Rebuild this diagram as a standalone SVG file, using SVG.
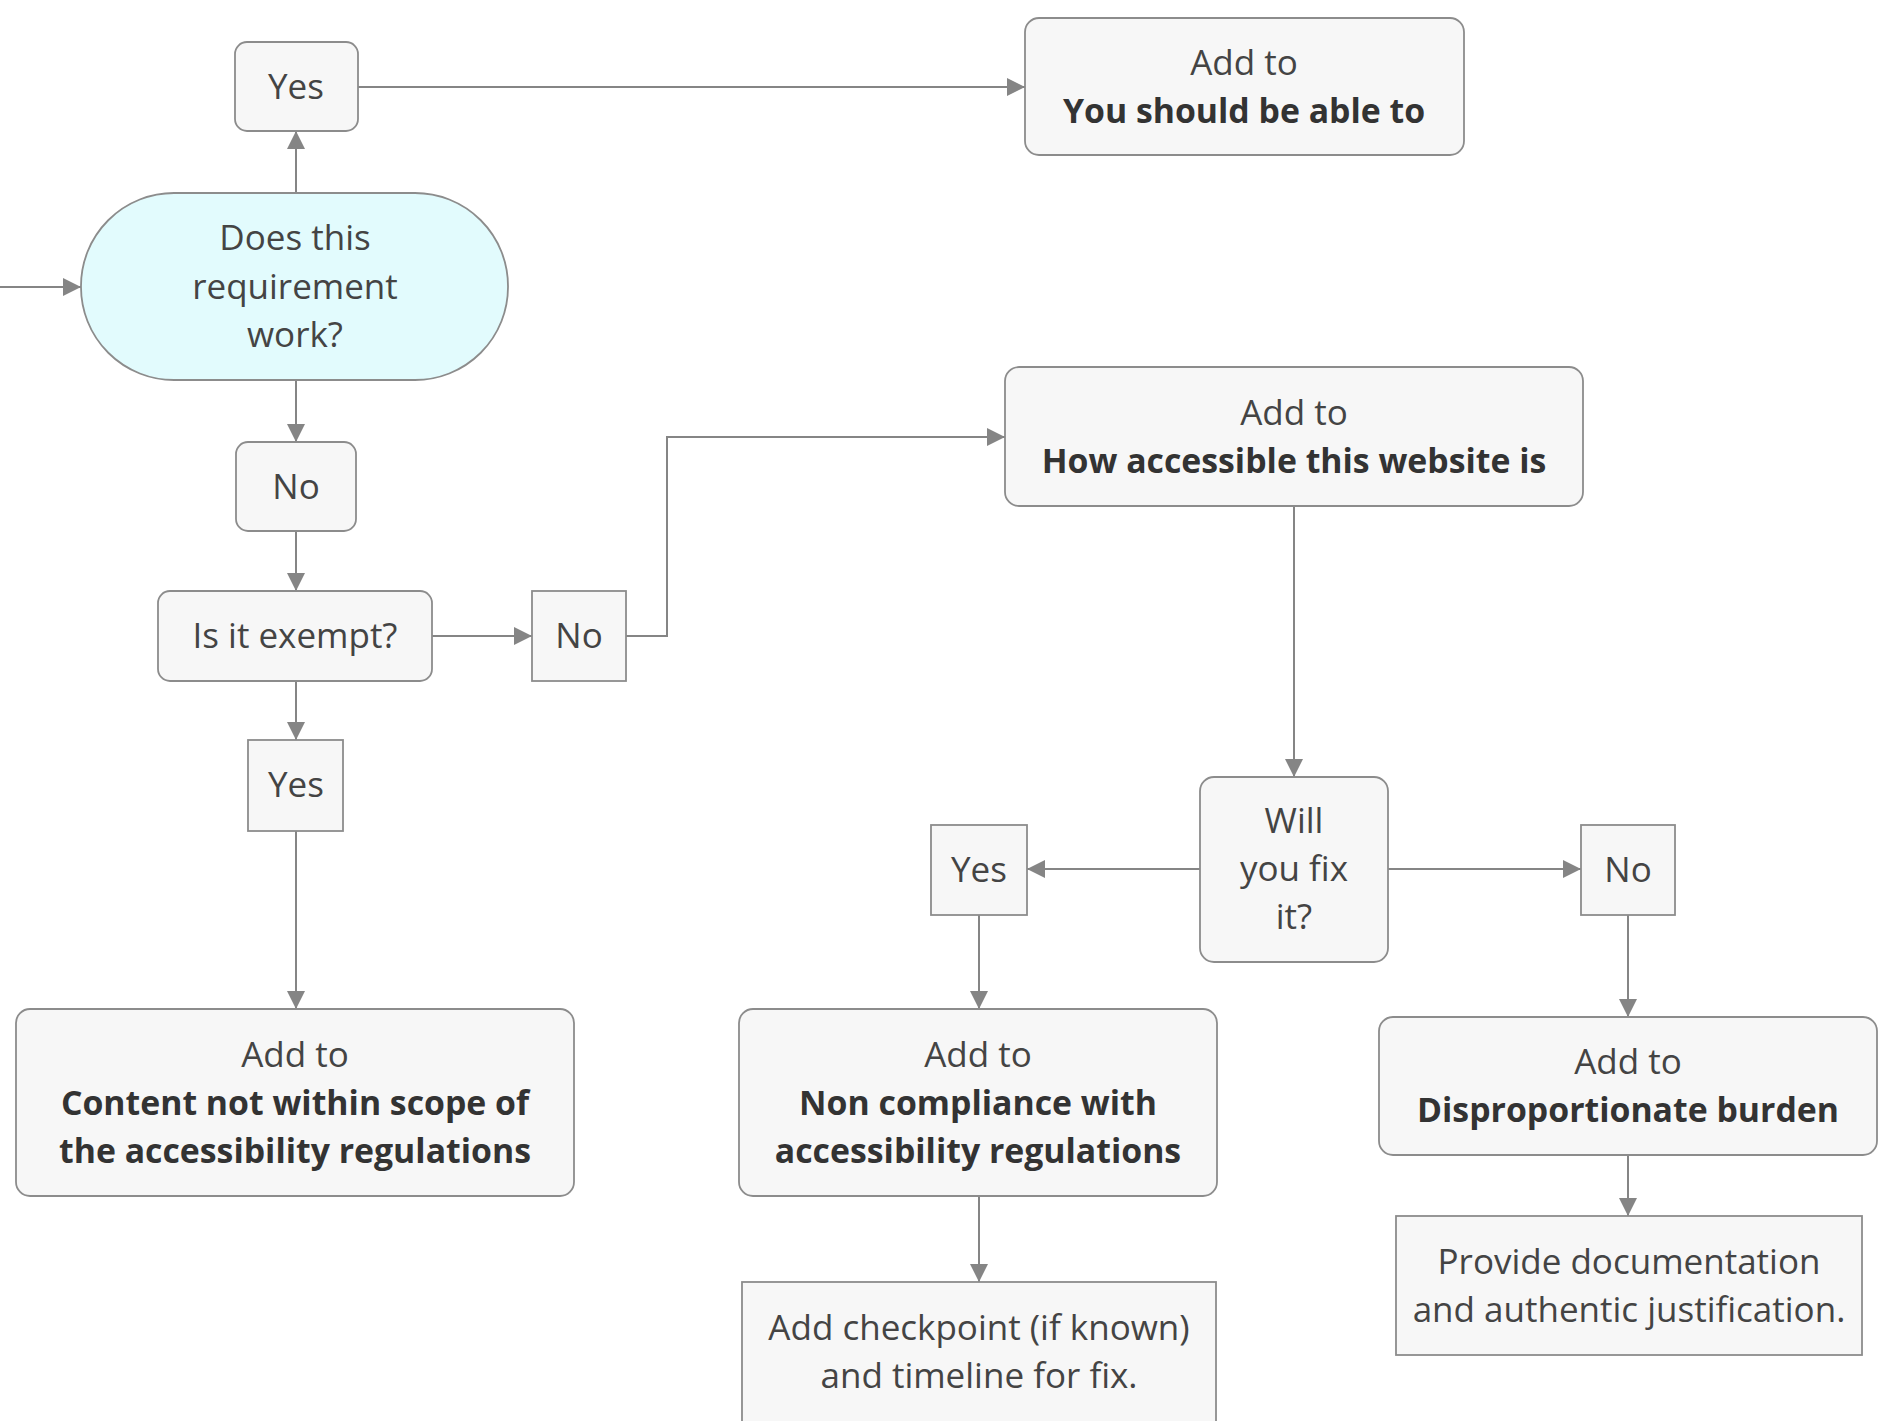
<svg xmlns="http://www.w3.org/2000/svg" width="1888" height="1421" viewBox="0 0 1888 1421">
<style>
.box{fill:#f7f7f7;stroke:#8c8c8c;stroke-width:1.8}
.pill{fill:#e2fbfd;stroke:#8c8c8c;stroke-width:1.8}
.t{font-family:"Open Sans","Noto Sans",sans-serif;font-size:35px;fill:#444;text-anchor:middle}
.b{font-weight:bold;font-size:33.8px;fill:#333}
.c{fill:none;stroke:#858585;stroke-width:2}
</style>
<defs>
<marker id="arr" viewBox="0 0 10 10" refX="10" refY="5" markerWidth="18" markerHeight="18" markerUnits="userSpaceOnUse" orient="auto">
<path d="M0,0 L10,5 L0,10 z" fill="#858585"/>
</marker>
</defs>
<rect width="1888" height="1421" fill="#ffffff"/>
<g id="connectors">
<path class="c" d="M0,287 H81" marker-end="url(#arr)"/>
<path class="c" d="M296,193 V131" marker-end="url(#arr)"/>
<path class="c" d="M358,87 H1025" marker-end="url(#arr)"/>
<path class="c" d="M296,380 V442" marker-end="url(#arr)"/>
<path class="c" d="M296,531 V591" marker-end="url(#arr)"/>
<path class="c" d="M432,636 H532" marker-end="url(#arr)"/>
<path class="c" d="M626,636 H667 V437 H1005" marker-end="url(#arr)"/>
<path class="c" d="M296,681 V740" marker-end="url(#arr)"/>
<path class="c" d="M296,831 V1009" marker-end="url(#arr)"/>
<path class="c" d="M1294,506 V777" marker-end="url(#arr)"/>
<path class="c" d="M1200,869 H1027" marker-end="url(#arr)"/>
<path class="c" d="M1388,869 H1581" marker-end="url(#arr)"/>
<path class="c" d="M979,915 V1009" marker-end="url(#arr)"/>
<path class="c" d="M1628,915 V1017" marker-end="url(#arr)"/>
<path class="c" d="M979,1196 V1282" marker-end="url(#arr)"/>
<path class="c" d="M1628,1155 V1216" marker-end="url(#arr)"/>
</g>
<g id="n_yes1"><rect class="box" x="235" y="42" width="123" height="89" rx="12"/><text class="t" x="296" y="99">Yes</text></g>
<g id="n_able"><rect class="box" x="1025" y="18" width="439" height="137" rx="14"/><text class="t" x="1244" y="75">Add to</text><text class="t b" x="1244" y="123">You should be able to</text></g>
<g id="n_work"><rect class="pill" x="81" y="193" width="427" height="187" rx="93" ry="93"/><text class="t" x="295" y="250">Does this</text><text class="t" x="295" y="299">requirement</text><text class="t" x="295" y="347">work?</text></g>
<g id="n_no1"><rect class="box" x="236" y="442" width="120" height="89" rx="12"/><text class="t" x="296" y="499">No</text></g>
<g id="n_exempt"><rect class="box" x="158" y="591" width="274" height="90" rx="12"/><text class="t" x="295" y="648">Is it exempt?</text></g>
<g id="n_no2"><rect class="box" x="532" y="591" width="94" height="90"/><text class="t" x="579" y="648">No</text></g>
<g id="n_yes2"><rect class="box" x="248" y="740" width="95" height="91"/><text class="t" x="296" y="797">Yes</text></g>
<g id="n_howacc"><rect class="box" x="1005" y="367" width="578" height="139" rx="14"/><text class="t" x="1294" y="425">Add to</text><text class="t b" x="1294" y="473">How accessible this website is</text></g>
<g id="n_will"><rect class="box" x="1200" y="777" width="188" height="185" rx="14"/><text class="t" x="1294" y="833">Will</text><text class="t" x="1294" y="881">you fix</text><text class="t" x="1294" y="929">it?</text></g>
<g id="n_yes3"><rect class="box" x="931" y="825" width="96" height="90"/><text class="t" x="979" y="882">Yes</text></g>
<g id="n_no3"><rect class="box" x="1581" y="825" width="94" height="90"/><text class="t" x="1628" y="882">No</text></g>
<g id="n_scope"><rect class="box" x="16" y="1009" width="558" height="187" rx="14"/><text class="t" x="295" y="1067">Add to</text><text class="t b" x="295" y="1115">Content not within scope of</text><text class="t b" x="295" y="1163">the accessibility regulations</text></g>
<g id="n_noncomp"><rect class="box" x="739" y="1009" width="478" height="187" rx="14"/><text class="t" x="978" y="1067">Add to</text><text class="t b" x="978" y="1115">Non compliance with</text><text class="t b" x="978" y="1163">accessibility regulations</text></g>
<g id="n_checkpoint"><rect class="box" x="742" y="1282" width="474" height="160"/><text class="t" x="979" y="1340">Add checkpoint (if known)</text><text class="t" x="979" y="1388">and timeline for fix.</text></g>
<g id="n_dispro"><rect class="box" x="1379" y="1017" width="498" height="138" rx="14"/><text class="t" x="1628" y="1074">Add to</text><text class="t b" x="1628" y="1122">Disproportionate burden</text></g>
<g id="n_provide"><rect class="box" x="1396" y="1216" width="466" height="139"/><text class="t" x="1629" y="1274">Provide documentation</text><text class="t" x="1629" y="1322">and authentic justification.</text></g>
</svg>
